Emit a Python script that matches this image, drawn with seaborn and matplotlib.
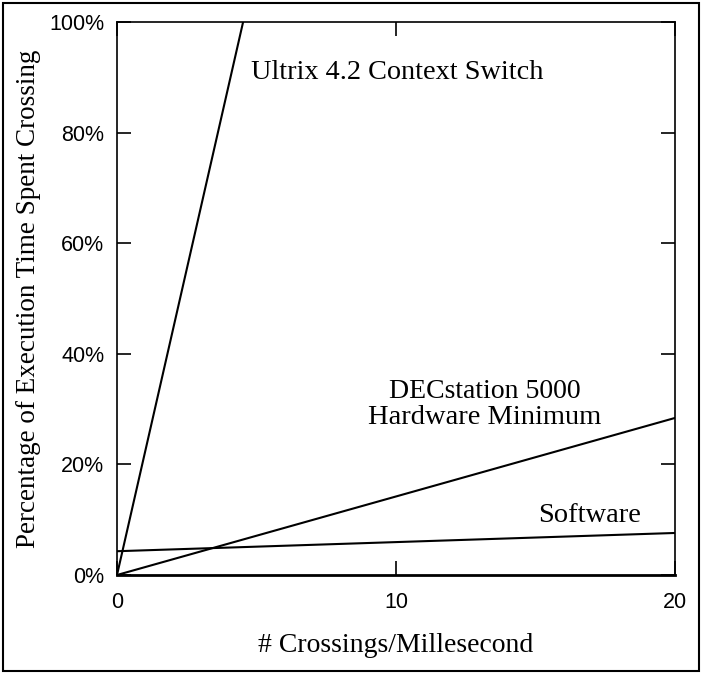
import matplotlib
matplotlib.use("Agg")
import matplotlib.pyplot as plt
import seaborn as sns
import pandas as pd
from matplotlib.patches import Rectangle
from matplotlib.ticker import FuncFormatter

# Data
ultrix_x = [0, 4.52]
ultrix_y = [0, 100]
dec_x = [0, 20]
dec_y = [0, 28.4]
soft_x = [0, 20]
soft_y = [4.3, 7.6]
x_ticks = [0, 10, 20]
y_ticks = [0, 20, 40, 60, 80, 100]

df = pd.concat([
    pd.DataFrame({"x": ultrix_x, "y": ultrix_y, "series": "Ultrix 4.2 Context Switch"}),
    pd.DataFrame({"x": dec_x, "y": dec_y, "series": "DECstation 5000 Hardware Minimum"}),
    pd.DataFrame({"x": soft_x, "y": soft_y, "series": "Software"}),
])

sns.set_style("white")
plt.rcParams["font.family"] = ["Liberation Serif", "DejaVu Serif"]
plt.rcParams["text.color"] = "black"
plt.rcParams["axes.labelcolor"] = "black"

fig = plt.figure(figsize=(7.02, 6.74), dpi=100)
ax = fig.add_axes([117/702, 99/674, 558/702, 553/674])

sns.lineplot(data=df, x="x", y="y", units="series", estimator=None,
             color="black", linewidth=1.5, ax=ax, legend=False, sort=False)

ax.set_xlim(0, 20)
ax.set_ylim(0, 100)
ax.set_xticks(x_ticks)
ax.set_yticks(y_ticks)
ax.yaxis.set_major_formatter(FuncFormatter(lambda v, p: f"{int(v)}%"))
ax.tick_params(direction="in", length=10, width=1.2, top=True, right=True,
               left=True, bottom=True, labelsize=15.5, colors="black")
ax.tick_params(axis="x", pad=12)
ax.tick_params(axis="y", pad=9)
for lab in ax.get_xticklabels() + ax.get_yticklabels():
    lab.set_fontfamily("Liberation Sans")
for s in ax.spines.values():
    s.set_color("black")
    s.set_linewidth(1.2)
ax.spines["bottom"].set_linewidth(2)

ax.set_xlabel("# Crossings/Millesecond", fontsize=20, labelpad=15)
ax.set_ylabel("Percentage of Execution Time Spent Crossing", fontsize=19.5, labelpad=6)

ax.text(10.04, 90.8, "Ultrix 4.2 Context Switch", fontsize=20.3, ha="center", va="center")
ax.text(13.19, 33.1, "DECstation 5000", fontsize=20, ha="center", va="center")
ax.text(13.19, 28.4, "Hardware Minimum", fontsize=20.5, ha="center", va="center")
ax.text(16.92, 10.8, "Software", fontsize=20.5, ha="center", va="center")

fig.patches.append(Rectangle((3/702, 3/674), 696/702, 668/674, transform=fig.transFigure,
                             fill=False, edgecolor="black", linewidth=1.5))

fig.savefig("out.png", dpi=100)
